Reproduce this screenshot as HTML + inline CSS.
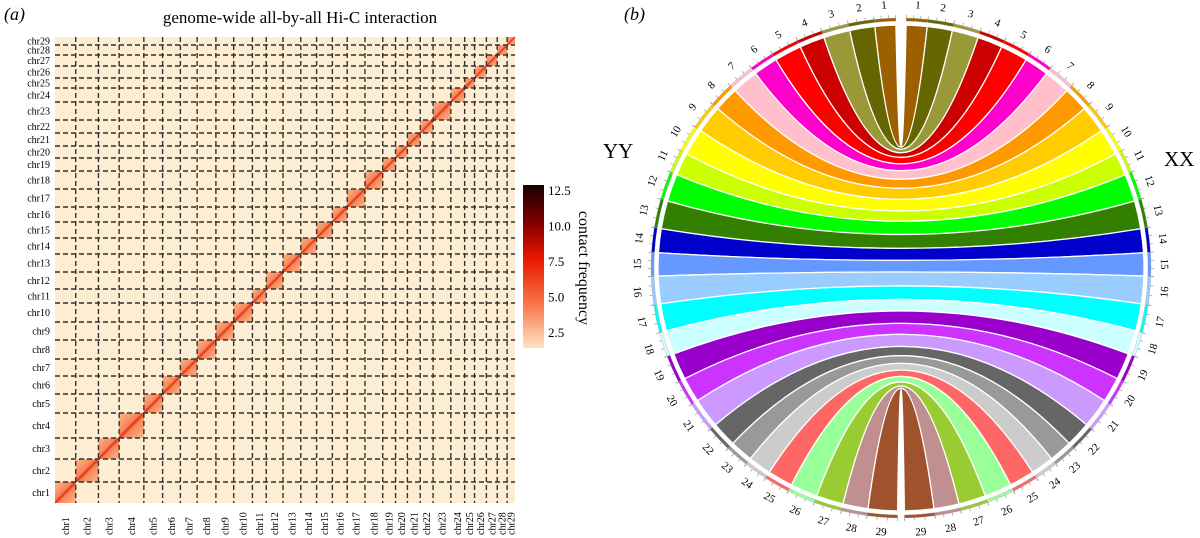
<!DOCTYPE html>
<html><head><meta charset="utf-8">
<style>
html,body{margin:0;padding:0;background:#fff;}
svg{display:block;font-family:"Liberation Serif",serif;}
</style></head>
<body>
<svg id="fig" width="1200" height="538" viewBox="0 0 1200 538" xmlns="http://www.w3.org/2000/svg">
<defs>
<linearGradient id="cbar" x1="0" y1="0" x2="0" y2="1">
<stop offset="0" stop-color="#140000"/>
<stop offset="0.25" stop-color="#8a0000"/>
<stop offset="0.45" stop-color="#e81800"/>
<stop offset="0.7" stop-color="#f86a40"/>
<stop offset="1" stop-color="#fde4c0"/>
</linearGradient>
<linearGradient id="blk" x1="0" y1="0" x2="1" y2="1">
<stop offset="0" stop-color="#fbb88c"/>
<stop offset="0.42" stop-color="#f6865a"/>
<stop offset="0.5" stop-color="#e8401c"/>
<stop offset="0.58" stop-color="#f6865a"/>
<stop offset="1" stop-color="#fbb88c"/>
</linearGradient>
</defs>
<text x="4" y="20" font-size="18" font-style="italic">(a)</text>
<text x="300" y="23" font-size="17" text-anchor="middle">genome-wide all-by-all Hi-C interaction</text>
<g id="heat"></g>
<rect x="523" y="185" width="21" height="163" fill="url(#cbar)"/>
<g id="cbticks"></g>
<text transform="translate(579,268) rotate(90)" font-size="16" text-anchor="middle">contact frequency</text>
<text x="624" y="20" font-size="18" font-style="italic">(b)</text>
<text x="603" y="158" font-size="21">YY</text>
<text x="1164" y="166" font-size="21">XX</text>
<g id="circ"></g>
</svg>
<script>
// Hi-C heatmap chromosome sizes (relative)
const chrNames = ["chr1","chr2","chr3","chr4","chr5","chr6","chr7","chr8","chr9","chr10","chr11","chr12","chr13","chr14","chr15","chr16","chr17","chr18","chr19","chr20","chr21","chr22","chr23","chr24","chr25","chr26","chr27","chr28","chr29"];
const chrSizes = [21,23,21,25,19,18,17,19,18,19,14,17,18,16,16,15,18,18,13,12,13,13,18,14,10,12,11,10,8];
const cbTicks = [2.5,5.0,7.5,10.0,12.5];
// circos: angular sizes per chromosome (degrees, per half)
const circSizes = [5,6,6.3,6,6.5,5.8,6.3,5.9,6.6,6.4,5.4,6.6,6.7,5.7,5.5,6.6,6.5,5.7,6.4,6,7.1,6,5.5,5.5,6,6.5,6.5,6,7];
const chrColors = ["#9c6000","#666600","#99993a","#cc0000","#ff0000","#ff00cc","#ffc0cb","#ff9900","#ffcc00","#ffff00","#ccff00","#00ff00","#338000","#0000cc","#6699ff","#99ccff","#00ffff","#ccffff","#9900cc","#cc33ff","#cc99ff","#666666","#999999","#cccccc","#ff6666","#99ff99","#99cc33","#c09090","#a0522d"];

const NS="http://www.w3.org/2000/svg";
function mk(tag,attrs,parent){const e=document.createElementNS(NS,tag);for(const k in attrs)e.setAttribute(k,attrs[k]);parent.appendChild(e);return e;}

// ---- heatmap
const HX0=55,HX1=515,HY0=37,HY1=503;
const total=chrSizes.reduce((a,b)=>a+b,0);
const xs=v=>HX0+(HX1-HX0)*v/total;
const ys=v=>HY1-(HY1-HY0)*v/total;
const heat=document.getElementById('heat');
const bg=mk('rect',{x:HX0,y:HY0,width:HX1-HX0,height:HY1-HY0,fill:"#fcedd3"},heat);


let cum=0;
const bounds=[0];
chrSizes.forEach((s,i)=>{
  const x0=xs(cum),x1=xs(cum+s),y0=ys(cum+s),y1=ys(cum);
  const r=mk('rect',{x:x0,y:y0,width:x1-x0,height:y1-y0,fill:"url(#blk)"},heat);
  
  
  const t=mk('text',{x:50,y:(y0+y1)/2+3.5,'font-size':10,'text-anchor':'end'},heat);
  t.textContent=chrNames[i];
  
  
  const xt=mk('text',{transform:`translate(${(x0+x1)/2+3.5},535) rotate(-90)`,'font-size':10},heat);
  xt.textContent=chrNames[i];
  
  
  cum+=s;bounds.push(cum);
});
const dl=mk('line',{x1:HX0,y1:HY1,x2:HX1,y2:HY0,stroke:"#e03a18","stroke-width":1.2},heat);


bounds.slice(1,-1).forEach(b=>{
  const h=mk('line',{x1:HX0,x2:HX1,y1:ys(b),y2:ys(b),stroke:"#333","stroke-width":1.4,"stroke-dasharray":"5 3"},heat);
  
  
  const v=mk('line',{y1:HY0,y2:HY1,x1:xs(b),x2:xs(b),stroke:"#333","stroke-width":1.4,"stroke-dasharray":"5 3"},heat);
  
  
});
// colorbar ticks
const cbg=document.getElementById('cbticks');
const cy0=332,cy1=190;
cbTicks.forEach(v=>{
  const y=cy0+(cy1-cy0)*(v-2.5)/10;
  const t=mk('text',{x:548,y:y+5,'font-size':13},cbg);
  t.textContent=v.toFixed(1);
  
  
});

// ---- circos
const CX=901,CY=268,R=243;
const circ=document.getElementById('circ');
const ctot=circSizes.reduce((a,b)=>a+b,0);
const span=178,start=1.2;
const P=(phi,r)=>{const a=phi*Math.PI/180;return [CX+r*Math.sin(a),CY-r*Math.cos(a)];};
let c=0;
const segs=circSizes.map(s=>{const a1=start+span*c/ctot;c+=s;const a2=start+span*c/ctot;return [a1,a2];});
segs.forEach((sg,i)=>{
  const [a1,a2]=sg;
  const p1=P(a1,R),p2=P(a2,R),q2=P(-a2,R),q1=P(-a1,R);
  const d=`M${p1} A${R},${R} 0 0 1 ${p2} Q${CX},${CY} ${q2} A${R},${R} 0 0 1 ${q1} Q${CX},${CY} ${p1} Z`;
  const rb=mk('path',{d:d,fill:chrColors[i],stroke:"#fff","stroke-width":1.3},circ);
  
  
});
segs.forEach((sg,i)=>{
  [1,-1].forEach(side=>{
    const a1=sg[0]*side,a2=sg[1]*side;
    const r1=247,r2=250;
    const o1=P(a1,r2),o2=P(a2,r2),n2=P(a2,r1),n1=P(a1,r1);
    const sw=side>0?1:0;
    const d=`M${o1} A${r2},${r2} 0 0 ${sw} ${o2} L${n2} A${r1},${r1} 0 0 ${1-sw} ${n1} Z`;
    const tr=mk('path',{d:d,fill:chrColors[i],stroke:"#999","stroke-width":0.3},circ);
    
    
    for(let k=0;k<=3;k++){
      const a=a1+(a2-a1)*k/3;
      const t1=P(a,250),t2=P(a,253);
      const tk=mk('line',{x1:t1[0],y1:t1[1],x2:t2[0],y2:t2[1],stroke:"#888","stroke-width":0.6},circ);
      
      
    }
    const am=(a1+a2)/2;
    const lp=P(am,264);
    let rot=Math.abs(am)>95?am-180*Math.sign(am):am;
    const t=mk('text',{x:lp[0],y:lp[1]+4,'font-size':11,'text-anchor':'middle',transform:`rotate(${rot} ${lp[0]} ${lp[1]})`},circ);
    t.textContent=String(i+1);
    
    
  });
});
</script>
</body></html>
